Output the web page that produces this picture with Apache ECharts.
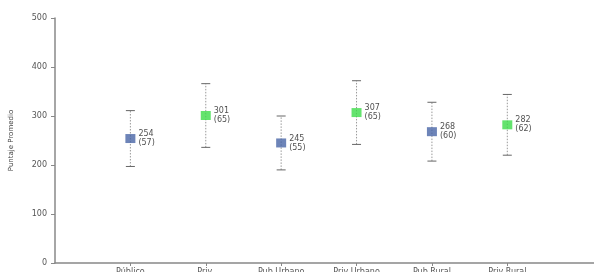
<!DOCTYPE html>
<html>
<head>
<meta charset="utf-8">
<script src="https://cdn.jsdelivr.net/npm/echarts@6/dist/echarts.min.js"></script>
<style>
  html, body { margin: 0; padding: 0; background: #fff; }
  #chart { width: 594px; height: 272px; }
</style>
</head>
<body>
<div id="chart"></div>
<script>
const categories = ['Público', 'Priv.', 'Pub Urbano', 'Priv Urbano', 'Pub Rural', 'Priv Rural'];
const means = [254, 301, 245, 307, 268, 282];
const sds = [57, 65, 55, 65, 60, 62];
const yTicks = [0, 100, 200, 300, 400, 500];

const blue = '#4865a6';
const green = '#3ddc4a';
const colors = categories.map((c, i) => (i % 2 === 0 ? blue : green));

const pos = categories.map((c, i) => i + 1);
const errData = pos.map((x, i) => [x, means[i] - sds[i], means[i] + sds[i]]);
const pointData = pos.map((x, i) => ({
  value: [x, means[i], sds[i]],
  itemStyle: { color: colors[i] }
}));

const chart = echarts.init(document.getElementById('chart'));
chart.setOption({
  animation: false,
  grid: { left: 55, right: 0, top: 18, bottom: 9, outerBoundsMode: 'none', containLabel: false },
  xAxis: {
    type: 'value',
    min: 0,
    max: 7.15,
    interval: 1,
    splitLine: { show: false },
    axisLine: { lineStyle: { color: '#888', width: 1.5 } },
    axisTick: { length: 3, lineStyle: { color: '#888' }, customValues: pos },
    axisLabel: {
      customValues: pos,
      color: '#555', fontSize: 8, margin: 5,
      fontFamily: 'DejaVu Sans',
      formatter: v => categories[v - 1] || ''
    }
  },
  yAxis: {
    type: 'value',
    min: 0,
    max: 500,
    interval: 100,
    name: 'Puntaje Promedio',
    nameLocation: 'middle',
    nameGap: 40,
    nameTextStyle: { color: '#444', fontSize: 7, fontFamily: 'DejaVu Sans' },
    splitLine: { show: false },
    axisLine: { show: true, onZero: false, lineStyle: { color: '#888', width: 1.5 } },
    axisTick: { show: true, length: 4, lineStyle: { color: '#888' } },
    axisLabel: {
      color: '#555', fontSize: 8, margin: 8, fontFamily: 'DejaVu Sans',
      formatter: v => (yTicks.includes(v) ? String(v) : '')
    }
  },
  series: [
    {
      type: 'custom',
      data: errData,
      z: 1,
      renderItem: function (params, api) {
        const x = api.value(0);
        const lo = api.coord([x, api.value(1)]);
        const hi = api.coord([x, api.value(2)]);
        const w = 4.5;
        const st = { stroke: '#666', lineWidth: 1 };
        return {
          type: 'group',
          children: [
            { type: 'line', shape: { x1: lo[0], y1: lo[1], x2: hi[0], y2: hi[1] },
              style: { stroke: '#999', lineWidth: 1, lineDash: [1.5, 1.5] } },
            { type: 'line', shape: { x1: hi[0] - w, y1: hi[1], x2: hi[0] + w, y2: hi[1] }, style: st },
            { type: 'line', shape: { x1: lo[0] - w, y1: lo[1], x2: lo[0] + w, y2: lo[1] }, style: st }
          ]
        };
      }
    },
    {
      type: 'scatter',
      data: pointData,
      z: 2,
      symbol: 'rect',
      symbolSize: [10, 9],
      label: {
        show: true,
        position: 'right',
        distance: 3,
        color: '#222',
        fontSize: 8,
        lineHeight: 9,
        fontFamily: 'DejaVu Sans',
        formatter: p => p.value[1] + '\n(' + p.value[2] + ')'
      }
    }
  ]
});
</script>
</body>
</html>
